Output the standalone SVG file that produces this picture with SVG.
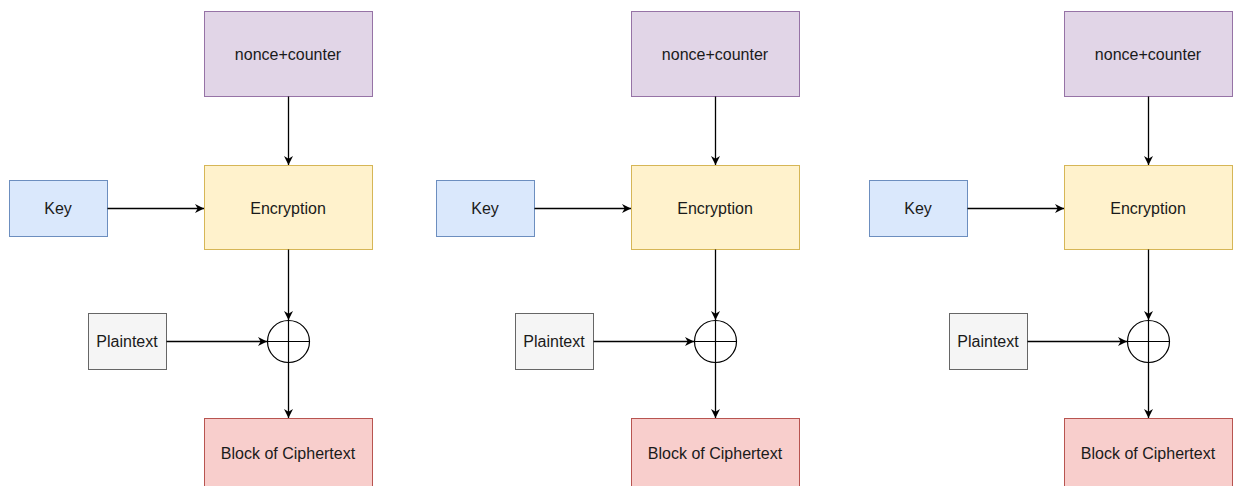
<svg xmlns="http://www.w3.org/2000/svg" width="1233" height="486" viewBox="0 0 1233 486">
<style>
text{font-family:"Liberation Sans",Arial,sans-serif;font-size:16px;fill:#1a1a1a;text-anchor:middle;dominant-baseline:central}
.nonce{fill:#e1d5e7;stroke:#9673a6}
.enc{fill:#fff2cc;stroke:#d6b656}
.key{fill:#dae8fc;stroke:#6c8ebf}
.pt{fill:#f5f5f5;stroke:#666666}
.ct{fill:#f8cecc;stroke:#b85450}
.xor{fill:none;stroke:#000;stroke-width:1.2}
.edge{fill:none;stroke:#000;stroke-width:1.3;marker-end:url(#arr)}
</style>
<defs>
<marker id="arr" viewBox="0 0 10 10" refX="10" refY="5" markerWidth="9" markerHeight="9" markerUnits="userSpaceOnUse" orient="auto">
<path d="M0,0 L10,5 L0,10 L3,5 z" fill="#000"/>
</marker>
<g id="col">
</g>
</defs>
<rect width="1233" height="486" fill="#fff"/>

<g id="col1">
<g id="nonce1"><rect class="nonce" x="204.5" y="11.5" width="168" height="85"/><text x="288" y="54">nonce+counter</text></g>
<g id="enc1"><rect class="enc" x="204.5" y="165.5" width="168" height="84"/><text x="288" y="208">Encryption</text></g>
<g id="key1"><rect class="key" x="9.5" y="180.5" width="98" height="56"/><text x="58" y="208">Key</text></g>
<g id="pt1"><rect class="pt" x="88.5" y="313.5" width="78" height="56"/><text x="127" y="341">Plaintext</text></g>
<g id="xor1"><circle class="xor" cx="288.5" cy="341.5" r="21"/><path class="xor" d="M267.5 341.5H309.5M288.5 320.5V362.5"/></g>
<g id="ct1"><rect class="ct" x="204.5" y="418.5" width="168" height="72"/><text x="288" y="453">Block of Ciphertext</text></g>
</g>

<g id="col2">
<g id="nonce2"><rect class="nonce" x="631.5" y="11.5" width="168" height="85"/><text x="715" y="54">nonce+counter</text></g>
<g id="enc2"><rect class="enc" x="631.5" y="165.5" width="168" height="84"/><text x="715" y="208">Encryption</text></g>
<g id="key2"><rect class="key" x="436.5" y="180.5" width="98" height="56"/><text x="485" y="208">Key</text></g>
<g id="pt2"><rect class="pt" x="515.5" y="313.5" width="78" height="56"/><text x="554" y="341">Plaintext</text></g>
<g id="xor2"><circle class="xor" cx="715.5" cy="341.5" r="21"/><path class="xor" d="M694.5 341.5H736.5M715.5 320.5V362.5"/></g>
<g id="ct2"><rect class="ct" x="631.5" y="418.5" width="168" height="72"/><text x="715" y="453">Block of Ciphertext</text></g>
</g>

<g id="col3">
<g id="nonce3"><rect class="nonce" x="1064.5" y="11.5" width="168" height="85"/><text x="1148" y="54">nonce+counter</text></g>
<g id="enc3"><rect class="enc" x="1064.5" y="165.5" width="168" height="84"/><text x="1148" y="208">Encryption</text></g>
<g id="key3"><rect class="key" x="869.5" y="180.5" width="98" height="56"/><text x="918" y="208">Key</text></g>
<g id="pt3"><rect class="pt" x="949.5" y="313.5" width="78" height="56"/><text x="988" y="341">Plaintext</text></g>
<g id="xor3"><circle class="xor" cx="1148.5" cy="341.5" r="21"/><path class="xor" d="M1127.5 341.5H1169.5M1148.5 320.5V362.5"/></g>
<g id="ct3"><rect class="ct" x="1064.5" y="418.5" width="168" height="72"/><text x="1148" y="453">Block of Ciphertext</text></g>
</g>

<g id="connectors">
<path class="edge" d="M288.5 96.5V165"/>
<path class="edge" d="M107.5 208.5H204"/>
<path class="edge" d="M288.5 249.5V320"/>
<path class="edge" d="M166.5 341.5H267"/>
<path class="edge" d="M288.5 362.5V418"/>

<path class="edge" d="M715.5 96.5V165"/>
<path class="edge" d="M534.5 208.5H631"/>
<path class="edge" d="M715.5 249.5V320"/>
<path class="edge" d="M593.5 341.5H694"/>
<path class="edge" d="M715.5 362.5V418"/>

<path class="edge" d="M1148.5 96.5V165"/>
<path class="edge" d="M967.5 208.5H1064"/>
<path class="edge" d="M1148.5 249.5V320"/>
<path class="edge" d="M1027.5 341.5H1127"/>
<path class="edge" d="M1148.5 362.5V418"/>
</g>
</svg>
